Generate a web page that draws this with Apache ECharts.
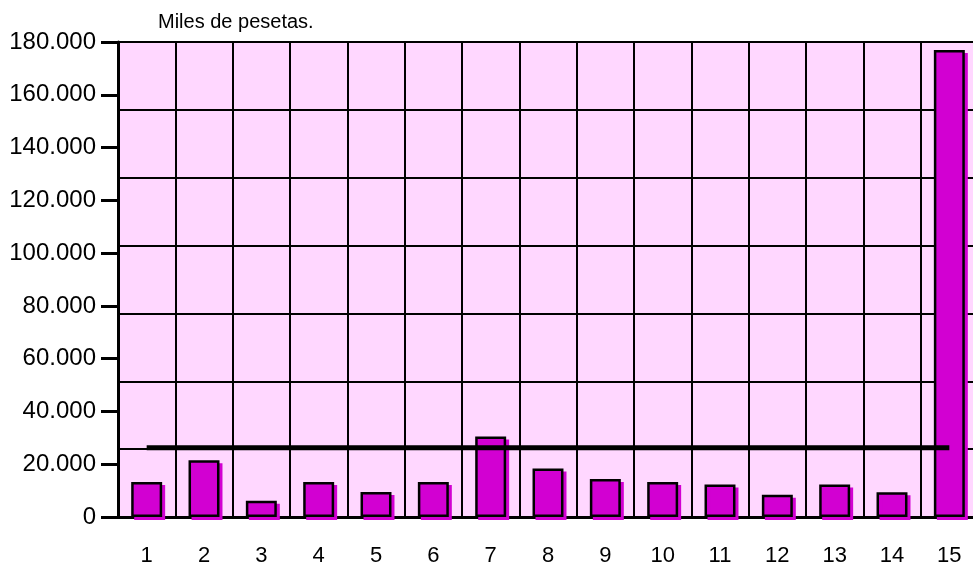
<!DOCTYPE html>
<html>
<head>
<meta charset="utf-8">
<script src="https://cdn.jsdelivr.net/npm/echarts@6/dist/echarts.min.js"></script>
<style>html,body{margin:0;padding:0;background:#fff}#c{width:973px;height:569px}</style>
</head>
<body>
<div id="c"></div>
<script>
const categories = ['1','2','3','4','5','6','7','8','9','10','11','12','13','14','15'];
const values = [13300, 21500, 6200, 13300, 9500, 13300, 30500, 18400, 14400, 13300, 12300, 8400, 12300, 9400, 177000];
const meanLine = [26200, 26200, 26200, 26200, 26200, 26200, 26200, 26200, 26200, 26200, 26200, 26200, 26200, 26200, 26200];
const yTickLabels = ['0','20.000','40.000','60.000','80.000','100.000','120.000','140.000','160.000','180.000'];
const titleText = 'Miles de pesetas.';

const FONT = 'Liberation Sans, Arial, sans-serif';
const chart = echarts.init(document.getElementById('c'));
chart.setOption({
  animation: false,
  backgroundColor: '#ffffff',
  title: {
    text: titleText, left: 153, top: 7,
    textStyle: { fontFamily: FONT, fontSize: 20, fontWeight: 'normal', color: '#000' }
  },
  grid: {
    left: 118, width: 860, top: 42, bottom: 52,
    outerBoundsMode: 'none', containLabel: false,
    show: true, backgroundColor: '#FFD7FF', borderWidth: 0
  },
  xAxis: [{
    type: 'category', data: categories, position: 'bottom',
    axisLine: { lineStyle: { color: '#000', width: 3 } },
    axisTick: { show: false },
    axisLabel: { color: '#000', fontFamily: FONT, fontSize: 22, margin: 28 },
    splitLine: { show: true, lineStyle: { color: '#000', width: 2 } }
  }, {
    type: 'category', data: categories, position: 'top',
    axisLine: { lineStyle: { color: '#000', width: 3 } },
    axisTick: { show: true, length: 4, lineStyle: { color: '#000', width: 2 } },
    axisLabel: { show: false },
    splitLine: { show: false }
  }],
  yAxis: [{
    type: 'value', min: 0, max: 180000, interval: 20000,
    axisLine: { show: true, lineStyle: { color: '#000', width: 3 } },
    axisTick: { show: true, length: 17, lineStyle: { color: '#000', width: 3 } },
    axisLabel: {
      color: '#000', fontFamily: FONT, fontSize: 24, margin: 22,
      formatter: v => yTickLabels[Math.round(v / 20000)]
    },
    splitLine: { show: false }
  }, {
    type: 'value', min: 0, max: 180000, interval: 180000 / 7, position: 'left',
    axisLine: { show: false }, axisTick: { show: false }, axisLabel: { show: false },
    splitLine: { show: true, lineStyle: { color: '#000', width: 2 } }
  }],
  series: [{
    type: 'bar', data: values, barWidth: '54%',
    itemStyle: {
      color: '#D200D2', borderColor: '#000', borderWidth: 2.5,
      shadowColor: '#D200D2', shadowBlur: 0, shadowOffsetX: 3, shadowOffsetY: 3
    }
  }, {
    type: 'line', data: meanLine, symbol: 'none', z: 5,
    lineStyle: { color: '#000', width: 5 }
  }]
});
</script>
</body>
</html>
